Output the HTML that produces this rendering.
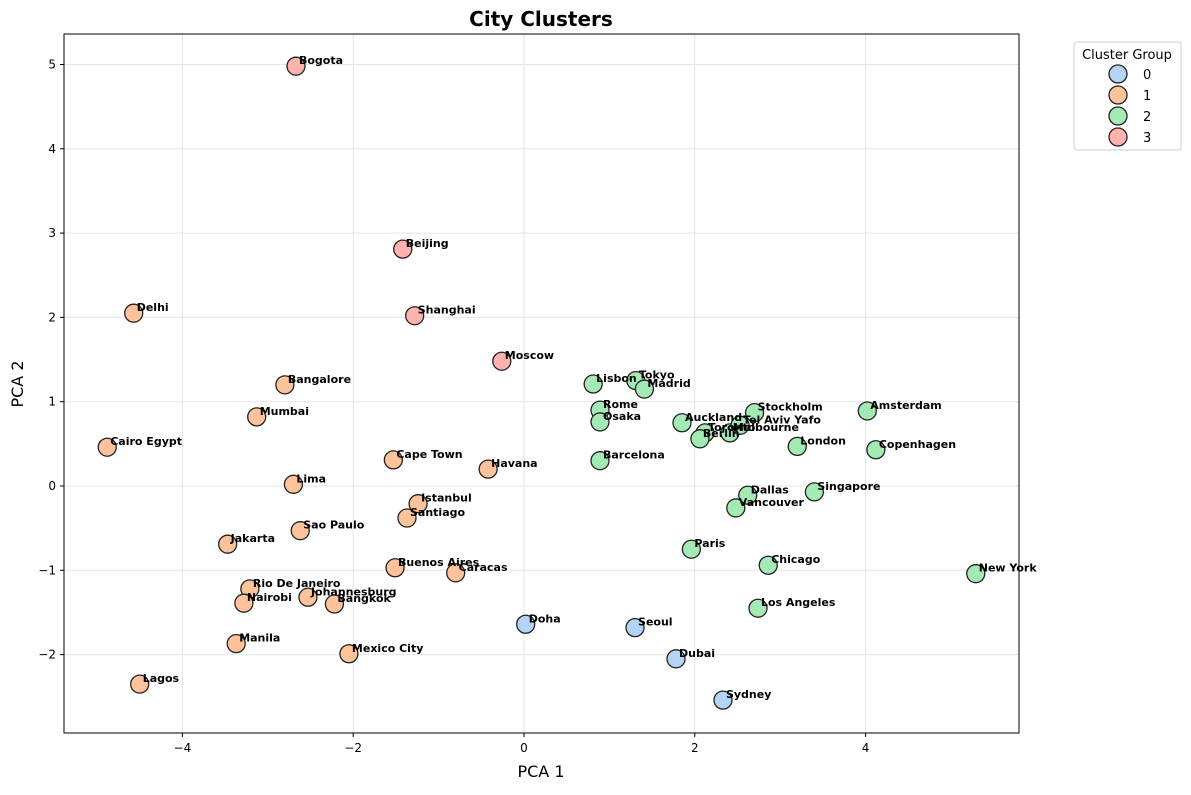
<!DOCTYPE html>
<html><head><meta charset="utf-8"><style>
body{margin:0;background:#fff;font-family:"Liberation Sans","DejaVu Sans",sans-serif;}
svg text{font-family:"DejaVu Sans","Liberation Sans",sans-serif;}
</style></head><body>
<svg id="chart" width="1191" height="790" xmlns="http://www.w3.org/2000/svg">
<text x="541" y="26" text-anchor="middle" font-size="20" font-weight="bold">City Clusters</text>
<text x="541" y="777" text-anchor="middle" font-size="16">PCA 1</text>
<text x="23" y="384" text-anchor="middle" font-size="16" transform="rotate(-90 23 384)">PCA 2</text>
<g id="grid"></g><g id="ticks"></g><g id="points"></g><g id="labels"></g>
<rect x="64" y="34" width="955" height="699" fill="none" stroke="#000" stroke-width="1"/>
<g id="legend">
<rect x="1074" y="42" width="107" height="108" rx="3" fill="#fff" stroke="#ccc"/>
<text x="1127" y="59" text-anchor="middle" font-size="13">Cluster Group</text>
</g>
</svg>
<script>
const names=["Bogota","Beijing","Shanghai","Moscow","Delhi","Bangalore","Mumbai","Cairo Egypt","Cape Town","Havana","Lima","Istanbul","Santiago","Sao Paulo","Jakarta","Buenos Aires","Caracas","Rio De Janeiro","Johannesburg","Nairobi","Bangkok","Manila","Mexico City","Lagos","Doha","Seoul","Dubai","Sydney","Lisbon","Tokyo","Madrid","Rome","Osaka","Barcelona","Auckland","Toronto","Berlin","Melbourne","Tel Aviv Yafo","Stockholm","Amsterdam","London","Copenhagen","Dallas","Singapore","Vancouver","Paris","Chicago","Los Angeles","New York"];
const pca1=[-2.67,-1.42,-1.28,-0.26,-4.57,-2.80,-3.13,-4.88,-1.53,-0.42,-2.70,-1.24,-1.37,-2.62,-3.47,-1.51,-0.80,-3.21,-2.53,-3.28,-2.22,-3.37,-2.05,-4.50,0.02,1.30,1.78,2.33,0.81,1.31,1.41,0.89,0.89,0.89,1.85,2.12,2.06,2.41,2.53,2.70,4.02,3.20,4.12,2.62,3.40,2.48,1.96,2.86,2.74,5.29];
const pca2=[4.98,2.81,2.02,1.48,2.05,1.20,0.82,0.46,0.31,0.20,0.02,-0.21,-0.38,-0.53,-0.69,-0.97,-1.03,-1.22,-1.32,-1.39,-1.40,-1.87,-1.99,-2.35,-1.64,-1.68,-2.05,-2.54,1.21,1.25,1.15,0.90,0.76,0.30,0.75,0.63,0.56,0.63,0.72,0.87,0.89,0.47,0.43,-0.11,-0.07,-0.26,-0.75,-0.94,-1.45,-1.04];
const cluster=[3,3,3,3,1,1,1,1,1,1,1,1,1,1,1,1,1,1,1,1,1,1,1,1,0,0,0,0,2,2,2,2,2,2,2,2,2,2,2,2,2,2,2,2,2,2,2,2,2,2];
const xTicks=[-4,-2,0,2,4];
const yTicks=[-2,-1,0,1,2,3,4,5];
const clusterIds=[0,1,2,3];
const colors=["#b4d4f7","#ffc39b","#a4eab4","#ffb2af"];
const NS="http://www.w3.org/2000/svg";
const X=v=>524+v*85.4, Y=v=>486-v*84.3;
function mk(t,a,p,txt){const e=document.createElementNS(NS,t);for(const k in a)e.setAttribute(k,a[k]);if(txt!=null)e.textContent=txt;p.appendChild(e);return e;}
const g=document.getElementById("grid"),tk=document.getElementById("ticks");
xTicks.forEach(v=>{const x=X(v);
 const l=mk("line",{x1:x,x2:x,y1:34,y2:733,stroke:"#e5e5e5"},g);
 mk("line",{x1:x,x2:x,y1:733,y2:737,stroke:"#000"},tk);
 const t=mk("text",{x:x,y:752,"text-anchor":"middle","font-size":"12"},tk,v<0?"\u2212"+(-v):String(v));});
yTicks.forEach(v=>{const y=Y(v);
 const l=mk("line",{x1:64,x2:1019,y1:y,y2:y,stroke:"#e5e5e5"},g);
 mk("line",{x1:60,x2:64,y1:y,y2:y,stroke:"#000"},tk);
 const t=mk("text",{x:56,y:y+4,"text-anchor":"end","font-size":"12"},tk,v<0?"\u2212"+(-v):String(v));});
const pg=document.getElementById("points"),lg=document.getElementById("labels");
names.forEach((n,i)=>{const x=X(pca1[i]),y=Y(pca2[i]);
 const c=mk("circle",{cx:x,cy:y,r:9,fill:colors[cluster[i]],stroke:"#222","stroke-width":1.3},pg);
 
 
 const t=mk("text",{x:x+3,y:y-2,"font-size":"11","font-weight":"bold"},lg,n);
 
 });
const le=document.getElementById("legend");
clusterIds.forEach((k,i)=>{const y=74+i*21;
 const c=mk("circle",{cx:1118,cy:y,r:9,fill:colors[k],stroke:"#222","stroke-width":1.3},le);
 
 const t=mk("text",{x:1143,y:y+5,"font-size":"13"},le,String(k));
 });
</script>
</body></html>
